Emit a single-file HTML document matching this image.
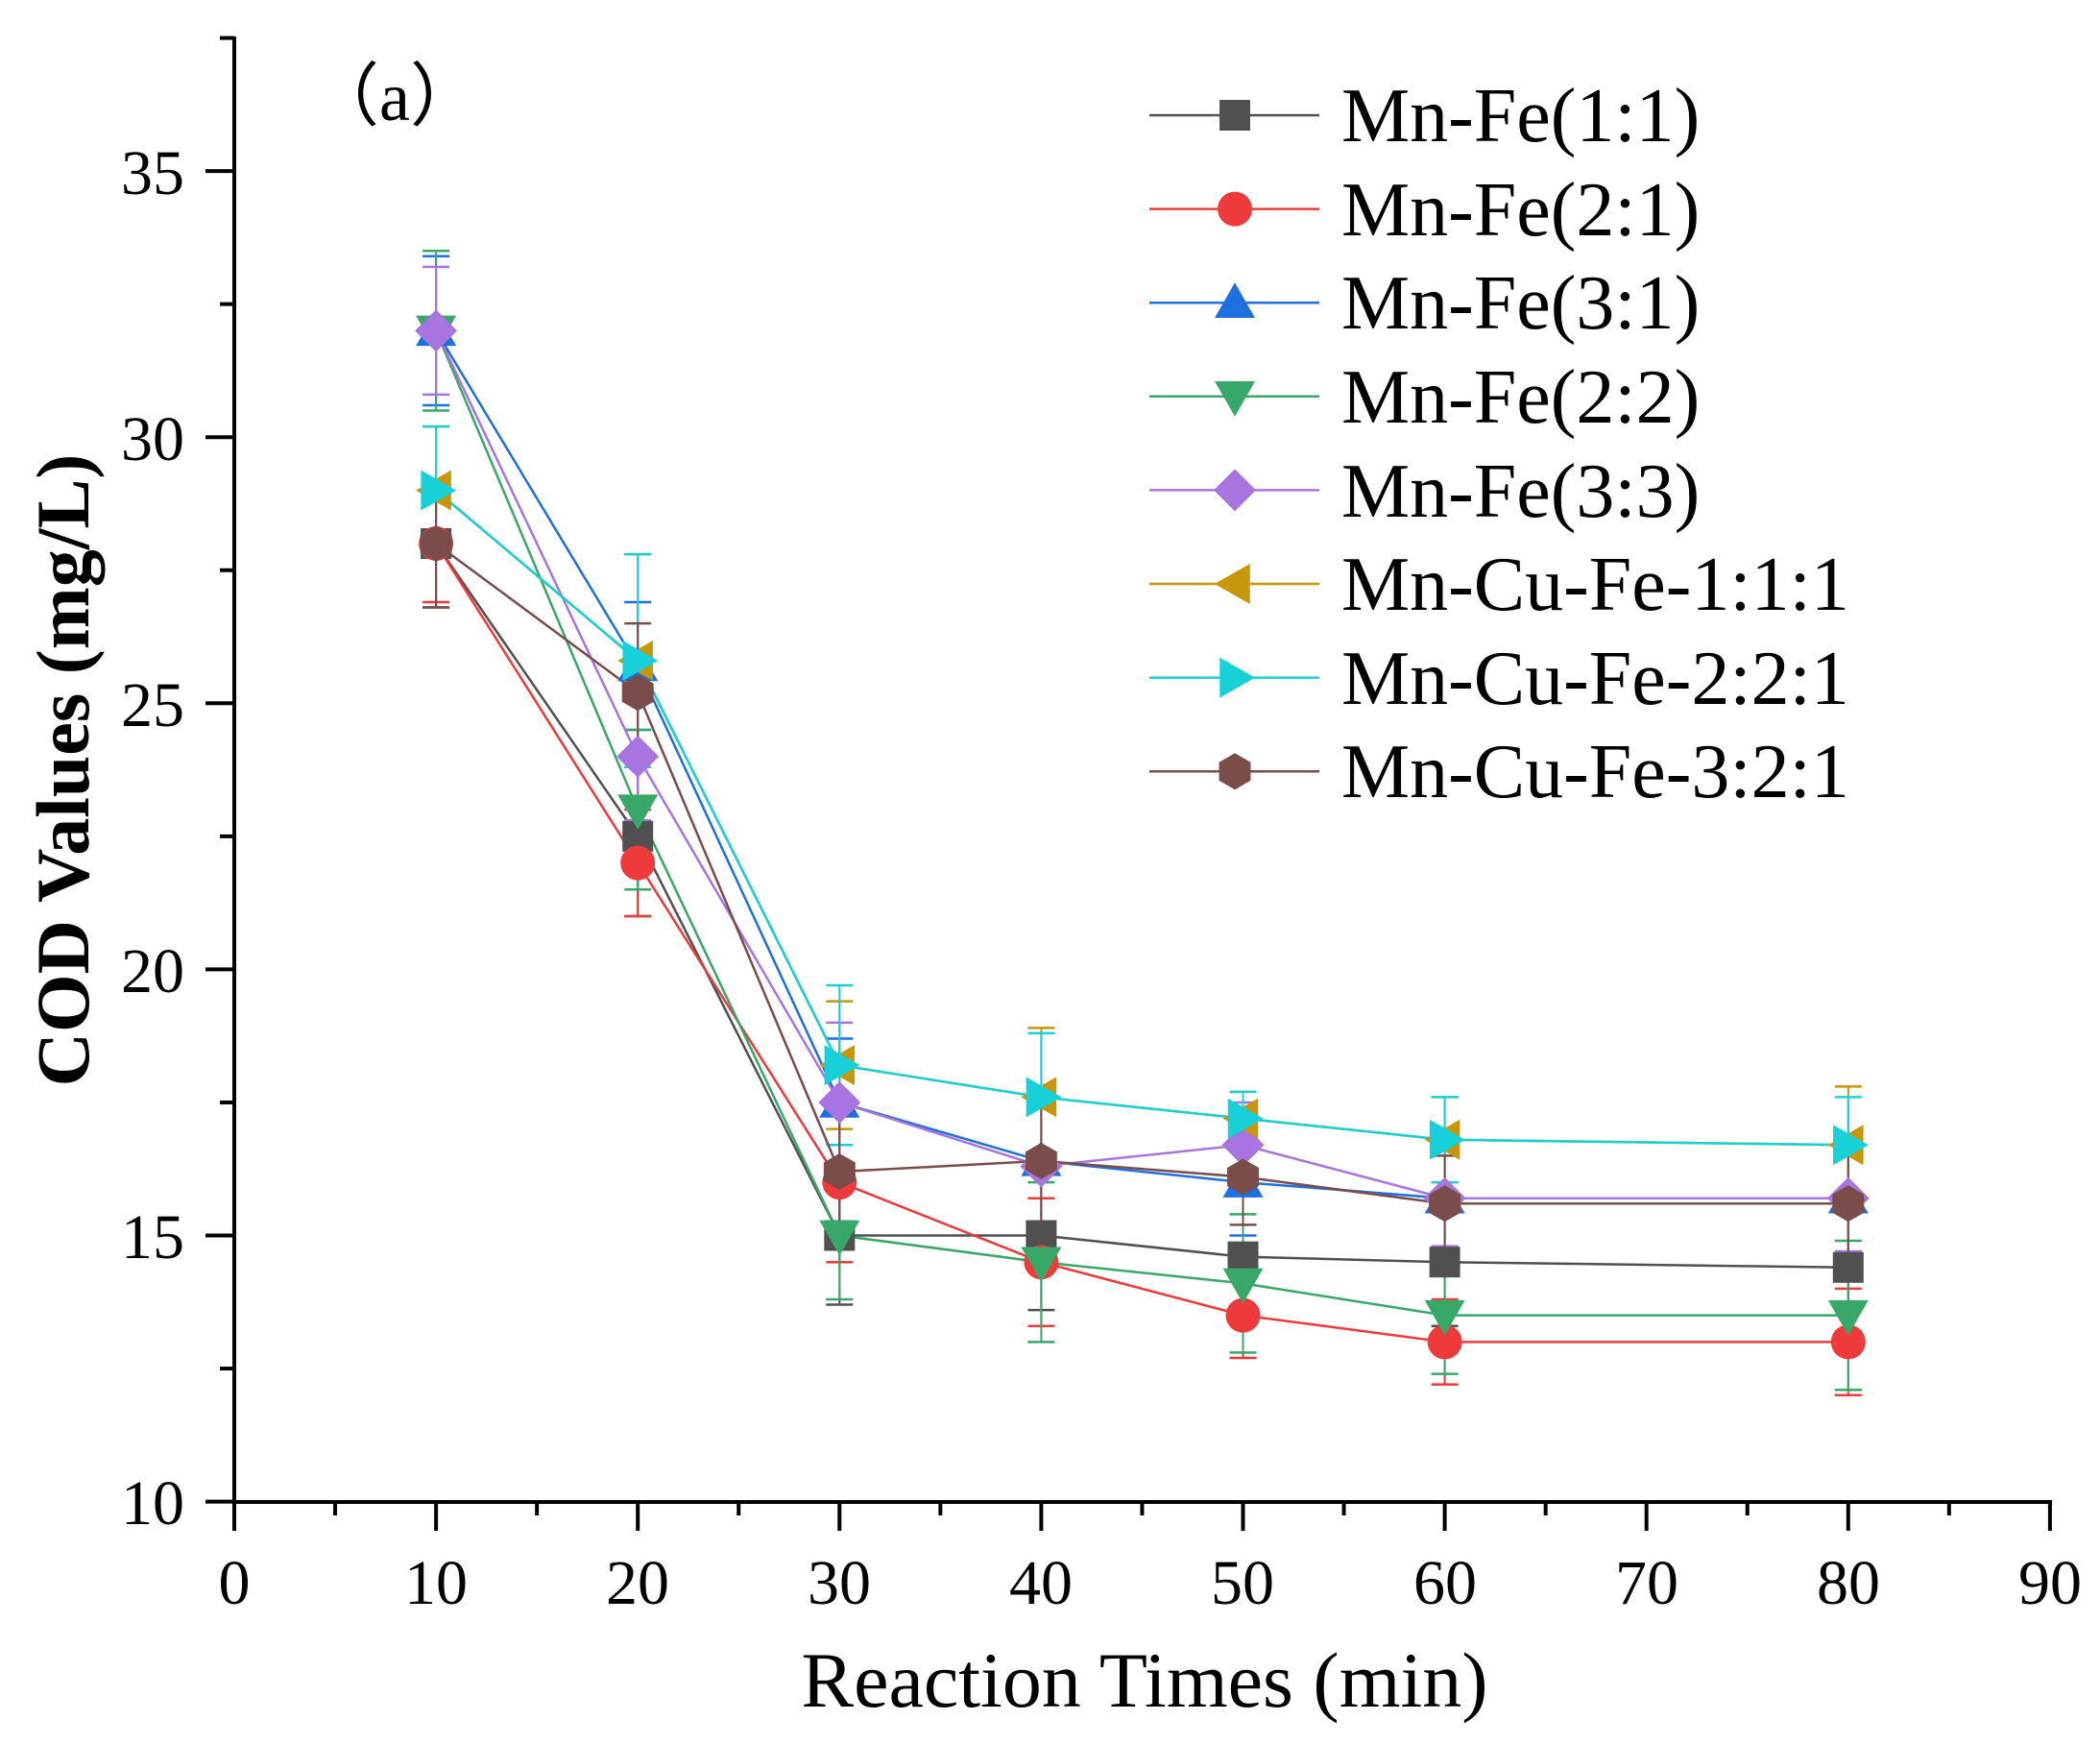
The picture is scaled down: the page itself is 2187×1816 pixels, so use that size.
<!DOCTYPE html>
<html><head><meta charset="utf-8"><style>
html,body{margin:0;padding:0;background:#fff;}
svg{display:block;}
text{font-family:"Liberation Serif",serif;fill:#000;}
</style></head><body>
<svg id="s" width="2187" height="1816" viewBox="0 0 2187 1816" xmlns="http://www.w3.org/2000/svg">
<rect width="2187" height="1816" fill="#fff"/>
<g id="axes" stroke="#000" stroke-width="4" fill="none">
<line x1="244" y1="38" x2="244" y2="1565"/>
<line x1="242" y1="1564" x2="2137" y2="1564"/>
</g>
<g id="ticks" stroke="#000" stroke-width="4"></g>
<g id="data"></g>
<g font-size="66" text-anchor="end">
<text x="192" y="1587">10</text>
<text x="192" y="1310">15</text>
<text x="192" y="1033">20</text>
<text x="192" y="756">25</text>
<text x="192" y="479">30</text>
<text x="192" y="202">35</text>
</g>
<g font-size="66" text-anchor="middle">
<text x="244" y="1670">0</text>
<text x="454" y="1670">10</text>
<text x="664" y="1670">20</text>
<text x="874" y="1670">30</text>
<text x="1084" y="1670">40</text>
<text x="1294" y="1670">50</text>
<text x="1505" y="1670">60</text>
<text x="1715" y="1670">70</text>
<text x="1925" y="1670">80</text>
<text x="2135" y="1670">90</text>
</g>
<text x="1192" y="1777" font-size="82" text-anchor="middle">Reaction Times (min)</text>
<text transform="translate(92,802) rotate(-90)" font-size="78" font-weight="bold" text-anchor="middle">COD Values (mg/L)</text>
<text x="411" y="125" font-size="72" text-anchor="middle">（a）</text>
<g id="legend"></g>
<g font-size="80">
<text x="1397" y="147">Mn-Fe(1:1)</text>
<text x="1397" y="245">Mn-Fe(2:1)</text>
<text x="1397" y="342">Mn-Fe(3:1)</text>
<text x="1397" y="440">Mn-Fe(2:2)</text>
<text x="1397" y="538">Mn-Fe(3:3)</text>
<text x="1397" y="635">Mn-Cu-Fe-1:1:1</text>
<text x="1397" y="733">Mn-Cu-Fe-2:2:1</text>
<text x="1397" y="830">Mn-Cu-Fe-3:2:1</text>
</g>
</svg>
<script>
var NS="http://www.w3.org/2000/svg";
function X(v){return 244+v*21.01;}
function Y(v){return 1563.6-(v-10)*55.42;}
function el(p,n,a){var e=document.createElementNS(NS,n);for(var k in a)e.setAttribute(k,a[k]);p.appendChild(e);return e;}
var tk=document.getElementById('ticks');
for(var v=0;v<=90;v+=5){var maj=v%10==0;el(tk,'line',{x1:X(v),x2:X(v),y1:1564,y2:maj?1594:1578});}
for(var v=10;v<=37.5;v+=2.5){var maj=v%5==0;el(tk,'line',{x1:maj?214:229,x2:244,y1:Y(v),y2:Y(v)});}
var xs=[10,20,30,40,50,60,80];
var S=[
["#505050","sq",[28,22.5,15,15,14.6,14.5,14.4],[1.2,1.5,1.3,1.4,1.2,1.2,1.2]],
["#ee3a3a","ci",[28,22,16,14.5,13.5,13,13],[1.1,1,1.5,1.2,0.8,0.8,1]],
["#1e6fe0","tu",[32,25.7,17.5,16.4,16,15.7,15.7],[1.4,1.2,1.2,1.2,1,1,1]],
["#38a868","td",[32,23,15,14.5,14.1,13.5,13.5],[1.5,1.5,1.2,1.5,1.3,1.1,1.4]],
["#a874e0","di",[32,24,17.5,16.3,16.7,15.7,15.7],[1.2,1.2,1.5,1.1,0.8,0.9,1]],
["#c8960a","tl",[29,25.8,18.2,17.6,17.2,16.8,16.7],[1.2,2,1.2,1.3,0.5,0.8,1.1]],
["#18d0d8","tr",[29,25.8,18.2,17.6,17.2,16.8,16.7],[1.2,2,1.5,1.2,0.5,0.8,0.9]],
["#7a4c4a","hx",[28,25.2,16.2,16.4,16.1,15.6,15.6],[1.2,1.3,1.3,1.2,0.9,0.9,1]]
];
function marker(g,t,x,y,c){var r=21;
if(t=="sq")el(g,'rect',{x:x-16,y:y-16,width:32,height:32,fill:c});
else if(t=="ci")el(g,'circle',{cx:x,cy:y,r:18,fill:c});
else if(t=="tu")el(g,'polygon',{points:[x,y-r,x+r,y+r*0.75,x-r,y+r*0.75].join(','),fill:c});
else if(t=="td")el(g,'polygon',{points:[x,y+r,x+r,y-r*0.75,x-r,y-r*0.75].join(','),fill:c});
else if(t=="tl")el(g,'polygon',{points:[x-r,y,x+r*0.75,y-r,x+r*0.75,y+r].join(','),fill:c});
else if(t=="tr")el(g,'polygon',{points:[x+r,y,x-r*0.75,y-r,x-r*0.75,y+r].join(','),fill:c});
else if(t=="di")el(g,'polygon',{points:[x,y-22,x+22,y,x,y+22,x-22,y].join(','),fill:c});
else if(t=="hx"){var p=[];for(var i=0;i<6;i++){var a=Math.PI/3*i+Math.PI/6;p.push(x+19*Math.cos(a),y+19*Math.sin(a));}el(g,'polygon',{points:p.join(','),fill:c});}
}
var d=document.getElementById('data');
S.forEach(function(s){
var pts=xs.map(function(x,i){return X(x)+','+Y(s[2][i]);}).join(' ');
el(d,'polyline',{points:pts,fill:'none',stroke:s[0],'stroke-width':2.5});
xs.forEach(function(x,i){var cx=X(x),y1=Y(s[2][i]+s[3][i]),y2=Y(s[2][i]-s[3][i]);
el(d,'line',{x1:cx,x2:cx,y1:y1,y2:y2,stroke:s[0],'stroke-width':2});
el(d,'line',{x1:cx-14,x2:cx+14,y1:y1,y2:y1,stroke:s[0],'stroke-width':2.5});
el(d,'line',{x1:cx-14,x2:cx+14,y1:y2,y2:y2,stroke:s[0],'stroke-width':2.5});});
});
S.forEach(function(s){xs.forEach(function(x,i){marker(d,s[1],X(x),Y(s[2][i]),s[0]);});});
var lg=document.getElementById('legend');
S.forEach(function(s,k){var y=120+97.6*k;
el(lg,'line',{x1:1197,x2:1374,y1:y,y2:y,stroke:s[0],'stroke-width':2.5});
marker(lg,s[1],1286,y,s[0]);});
</script>
</body></html>
